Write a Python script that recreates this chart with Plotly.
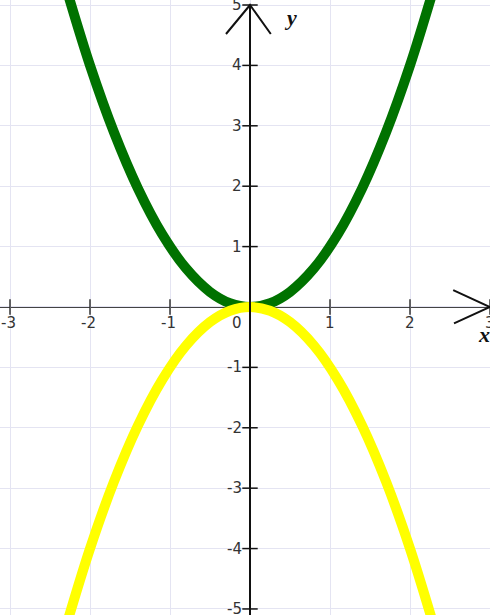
import plotly.graph_objects as go

# sample points read along the two parabolas
x_pts = [-2.3, -2.0, -1.7, -1.4, -1.1, -0.8, -0.5, -0.25, 0.0,
         0.25, 0.5, 0.8, 1.1, 1.4, 1.7, 2.0, 2.3]
y_green = [5.29, 4.0, 2.89, 1.96, 1.21, 0.64, 0.25, 0.0625, 0.0,
           0.0625, 0.25, 0.64, 1.21, 1.96, 2.89, 4.0, 5.29]
y_yellow = [-5.29, -4.0, -2.89, -1.96, -1.21, -0.64, -0.25, -0.0625, 0.0,
            -0.0625, -0.25, -0.64, -1.21, -1.96, -2.89, -4.0, -5.29]

x_ticks = [-3, -2, -1, 1, 2, 3]
y_ticks = [-5, -4, -3, -2, -1, 1, 2, 3, 4, 5]

X_RANGE = [-3.125, 3.0]
Y_RANGE = [-5.1, 5.083]
GRID = "#e4e4f2"
TICK_FONT = dict(family="DejaVu Sans", size=15, color="#333333")

fig = go.Figure()

fig.add_trace(
    go.Scatter(
        x=x_pts, y=y_green, mode="lines", line_shape="spline",
        line=dict(color="#007200", width=10), hoverinfo="skip",
    )
)
fig.add_trace(
    go.Scatter(
        x=x_pts, y=y_yellow, mode="lines", line_shape="spline",
        line=dict(color="#ffff00", width=10), hoverinfo="skip",
    )
)

# tick marks on the axes
fig.add_trace(
    go.Scatter(
        x=x_ticks, y=[0] * len(x_ticks), mode="markers",
        marker=dict(symbol="line-ns", size=11, line=dict(color="#333333", width=1.5)),
        hoverinfo="skip",
    )
)
fig.add_trace(
    go.Scatter(
        x=[0] * len(y_ticks), y=y_ticks, mode="markers",
        marker=dict(symbol="line-ew", size=11, line=dict(color="#111111", width=1.5)),
        hoverinfo="skip",
    )
)

# axis lines and arrow heads
fig.add_shape(type="line", x0=X_RANGE[0], x1=X_RANGE[1], y0=0, y1=0,
              line=dict(color="#444444", width=2), layer="below")
fig.add_shape(type="line", x0=0, x1=0, y0=Y_RANGE[0], y1=5.0,
              line=dict(color="#111111", width=2), layer="above")
fig.add_shape(type="path", path="M -0.3,4.52 L 0,5 L 0.26,4.52",
              line=dict(color="#111111", width=2), layer="above")
fig.add_shape(type="path", path="M 2.54,0.28 L 3.0,0 L 2.55,-0.27",
              line=dict(color="#111111", width=2), layer="above")

# tick labels
for v in x_ticks:
    fig.add_annotation(x=v, y=0, text=str(v), showarrow=False, font=TICK_FONT,
                       yshift=-16, xshift=-2 if v < 0 else 0)
fig.add_annotation(x=0, y=0, text="0", showarrow=False, font=TICK_FONT,
                   xshift=-13, yshift=-16)
for v in y_ticks:
    fig.add_annotation(x=0, y=v, text=str(v), showarrow=False, font=TICK_FONT,
                       xanchor="right", xshift=-6)

fig.add_annotation(x=0.5, y=4.8, text="<b><i>y</i></b>", showarrow=False,
                   font=dict(family="Liberation Serif", size=22, color="#111111"))
fig.add_annotation(x=2.92, y=-0.45, text="<b><i>x</i></b>", showarrow=False,
                   font=dict(family="Liberation Serif", size=22, color="#111111"))

fig.update_xaxes(range=X_RANGE, dtick=1, tick0=0, showgrid=True, gridcolor=GRID,
                 gridwidth=1, zeroline=False, showticklabels=False, ticks="")
fig.update_yaxes(range=Y_RANGE, dtick=1, tick0=0, showgrid=True, gridcolor=GRID,
                 gridwidth=1, zeroline=False, showticklabels=False, ticks="")
fig.update_layout(
    width=490, height=615,
    margin=dict(l=0, r=0, t=0, b=0),
    plot_bgcolor="white", paper_bgcolor="white",
    showlegend=False,
)

fig.write_html(
    "out.html",
    config={"displayModeBar": False},
    post_script="document.body.style.margin='0';",
)
